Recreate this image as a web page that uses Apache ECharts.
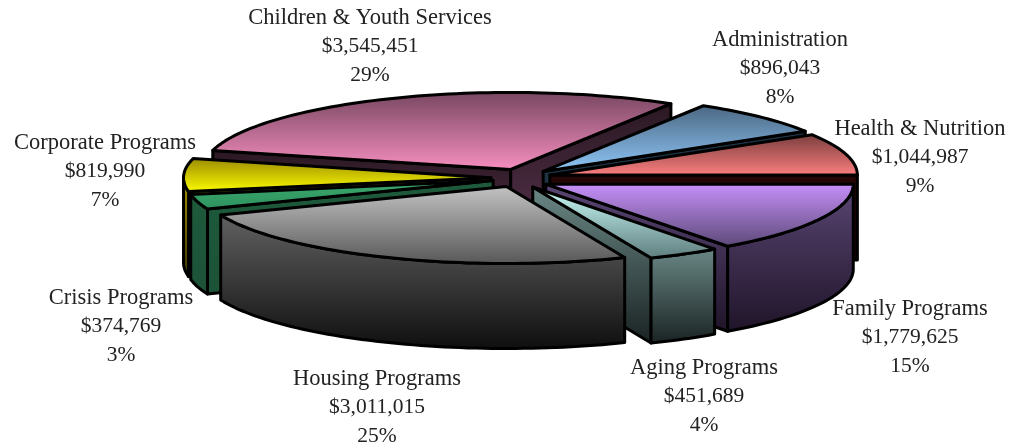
<!DOCTYPE html>
<html>
<head>
<meta charset="utf-8">
<style>html,body{margin:0;padding:0;background:#fff}#chart{width:1019px;height:444px}</style>
<script src="https://cdn.jsdelivr.net/npm/echarts@6/dist/echarts.min.js"></script>
</head>
<body>
<div id="chart"></div>
<script>
// Data, clockwise from the 3 o'clock position
const categories = ['Family Programs','Aging Programs','Housing Programs','Crisis Programs','Corporate Programs','Children & Youth Services','Administration','Health & Nutrition'];
const amounts = [1779625,451689,3011015,374769,819990,3545451,896043,1044987];
const amountLabels = ['$1,779,625','$451,689','$3,011,015','$374,769','$819,990','$3,545,451','$896,043','$1,044,987'];
const percentLabels = ['15%','4%','25%','3%','7%','29%','8%','9%'];

// Style
const topColors = [['#c891fb','#5a4876'],['#ccfffb','#5d7c7c'],['#c4c4c4','#565656'],['#3aaa6c','#2f9160'],['#988800','#ffff00'],['#76465f','#f78fc0'],['#4a6680','#90c8fa'],['#773c3c','#ff8080']];
const wallColors = [['#5a4674','#1f1428'],['#6a8886','#192222'],['#626262','#0e0e0e'],['#1e5a3c','#1c5238'],['#a89600','#3c3400'],['#2a1822','#5a3450'],['#1f3444','#1f3444'],['#260606','#140202']];

// Projection
const center = [521, 178], radiusX = 307.5, radiusY = 77, depth = 85;
const explodeX = 30, explodeY = 9.2;
const sliceNudge = [[-2,2],[-3,1],[-3,0],[1,0],[0,0],[1,0],[1,0],[0,-0.5]];
const labelAnchors = [[910,337.5],[704,396.5],[377,407.5],[121,326.5],[105,171.5],[370,46.5],[780,68.5],[920,157.5]];
const labelFont = '"Liberation Serif", serif';

const total = amounts.reduce((a, b) => a + b, 0);
const spans = [];
amounts.reduce((acc, v) => { const end = acc + v / total * 360; spans.push([acc, end]); return end; }, 0);
const rad = d => d * Math.PI / 180;
const drawRank = spans.map((s, i) => [Math.sin(rad((s[0] + s[1]) / 2)), i]).sort((a, b) => a[0] - b[0]).map(p => p[1]);

function grad(c) {
  return new echarts.graphic.LinearGradient(0, 0, 0, 1, [{offset: 0, color: c[0]}, {offset: 1, color: c[1]}]);
}

function renderItem(params, api) {
  const i = api.value(0);
  const [a0, a1] = spans[i];
  const mid = rad((a0 + a1) / 2);
  const ax = center[0] + explodeX * Math.cos(mid) + sliceNudge[i][0];
  const ay = center[1] + explodeY * Math.sin(mid) + sliceNudge[i][1];
  const rim = (deg, dz) => [ax + radiusX * Math.cos(rad(deg)), ay + radiusY * Math.sin(rad(deg)) + (dz || 0)];
  const arc = (from, to, dz) => {
    const pts = [], n = Math.max(2, Math.ceil((to - from) / 1.5));
    for (let k = 0; k <= n; k++) pts.push(rim(from + (to - from) * k / n, dz));
    return pts;
  };
  const rank = drawRank.indexOf(i);
  const line = {stroke: '#000', lineWidth: 3, lineJoin: 'round'};
  const face = (points, colors, order) => ({
    type: 'polygon', z2: rank * 10 + order, shape: {points},
    style: Object.assign({fill: grad(colors)}, line)
  });
  const kids = [];
  const cut = deg => [[ax, ay], rim(deg), rim(deg, depth), [ax, ay + depth]];
  if (Math.cos(rad(a0)) < 0) kids.push(face(cut(a0), wallColors[i], 1));
  if (Math.cos(rad(a1)) > 0) kids.push(face(cut(a1), wallColors[i], 2));
  const f0 = Math.max(a0, 0), f1 = Math.min(a1, 180);
  if (f1 > f0) kids.push(face(arc(f0, f1, 0).concat(arc(f0, f1, depth).reverse()), wallColors[i], 3));
  kids.push(face([[ax, ay]].concat(arc(a0, a1, 0)), topColors[i], 4));
  kids.push({
    type: 'text', z2: 1000,
    style: {
      text: '{n|' + categories[i] + '}\n{v|' + amountLabels[i] + '}\n{v|' + percentLabels[i] + '}',
      x: labelAnchors[i][0], y: labelAnchors[i][1],
      align: 'center', verticalAlign: 'middle',
      fontFamily: labelFont, fill: '#222',
      rich: {
        n: {fontFamily: labelFont, fontSize: 22.5, lineHeight: 28.6, fill: '#222', align: 'center'},
        v: {fontFamily: labelFont, fontSize: 21.5, lineHeight: 28.6, fill: '#222', align: 'center'}
      }
    }
  });
  return {type: 'group', children: kids};
}

const chart = echarts.init(document.getElementById('chart'), null, {renderer: 'canvas'});
chart.setOption({
  animation: false,
  backgroundColor: '#fff',
  series: [{
    type: 'custom',
    coordinateSystem: 'none',
    renderItem,
    silent: true,
    data: amounts.map((v, i) => [i, v])
  }]
});
</script>
</body>
</html>
